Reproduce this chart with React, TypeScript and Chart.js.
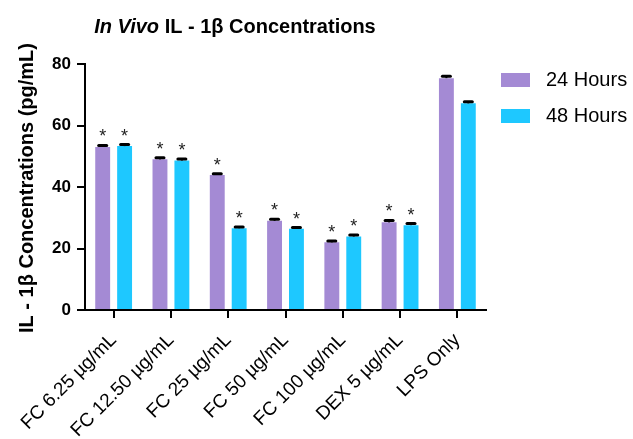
import { useEffect, useRef } from "react";
import { Chart, registerables } from "chart.js";

Chart.register(...registerables);

// Treatment groups along the x axis
const categories = [
  "FC 6.25 µg/mL",
  "FC 12.50 µg/mL",
  "FC 25 µg/mL",
  "FC 50 µg/mL",
  "FC 100 µg/mL",
  "DEX 5 µg/mL",
  "LPS Only",
];

const seriesNames = ["24 Hours", "48 Hours"];

// Mean IL-1β concentration (pg/mL)
const hours24 = [53.0, 49.0, 43.9, 29.0, 22.0, 28.5, 75.4];
const hours48 = [53.3, 48.6, 26.6, 26.4, 23.9, 27.6, 67.2];

// Error (SEM) for each mean
const err24 = [0.5, 0.5, 0.4, 0.5, 0.4, 0.6, 0.6];
const err48 = [0.5, 0.5, 0.4, 0.4, 0.5, 0.5, 0.5];

// Significance markers vs. LPS only
const sig24 = [true, true, true, true, true, true, false];
const sig48 = [true, true, true, true, true, true, false];

const yTicks = [0, 20, 40, 60, 80];

const PURPLE = "#A48AD4";
const BLUE = "#1EC8FF";
const FONT = "Arial, 'Liberation Sans', sans-serif";

const errorBarPlugin = {
  id: "errorBars",
  afterDatasetsDraw(chart: any) {
    const ctx = chart.ctx;
    const yScale = chart.scales.y;
    const errs = [err24, err48];
    const sigs = [sig24, sig48];
    chart.data.datasets.forEach((ds: any, i: number) => {
      const meta = chart.getDatasetMeta(i);
      meta.data.forEach((bar: any, j: number) => {
        const v = ds.data[j];
        const e = errs[i][j];
        const x = bar.x;
        const yTop = yScale.getPixelForValue(v + e);
        const yVal = yScale.getPixelForValue(v);
        ctx.save();
        ctx.strokeStyle = "#000";
        ctx.lineWidth = 2;
        ctx.beginPath();
        ctx.moveTo(x, yVal);
        ctx.lineTo(x, yTop);
        ctx.stroke();
        ctx.lineWidth = 3;
        ctx.lineCap = "round";
        ctx.beginPath();
        ctx.moveTo(x - 4, yTop);
        ctx.lineTo(x + 4, yTop);
        ctx.stroke();
        if (sigs[i][j]) {
          ctx.fillStyle = "#222";
          ctx.font = `18px ${FONT}`;
          ctx.textAlign = "center";
          ctx.textBaseline = "middle";
          ctx.fillText("*", x, yTop - 8);
        }
        ctx.restore();
      });
    });
  },
};

const labelsPlugin = {
  id: "chartLabels",
  afterDraw(chart: any) {
    const ctx = chart.ctx;
    ctx.save();
    ctx.fillStyle = "#000";

    // Title: italic "In Vivo" followed by the bold remainder
    ctx.textBaseline = "alphabetic";
    ctx.textAlign = "left";
    const part1 = "In Vivo";
    const part2 = " IL - 1β Concentrations";
    ctx.font = `italic bold 20px ${FONT}`;
    const w1 = ctx.measureText(part1).width;
    ctx.font = `bold 20px ${FONT}`;
    const w2 = ctx.measureText(part2).width;
    const startX = 235 - (w1 + w2) / 2;
    ctx.font = `italic bold 20px ${FONT}`;
    ctx.fillText(part1, startX, 33);
    ctx.font = `bold 20px ${FONT}`;
    ctx.fillText(part2, startX + w1, 33);

    // Y axis title
    ctx.save();
    ctx.translate(27, 188);
    ctx.rotate(-Math.PI / 2);
    ctx.textAlign = "center";
    ctx.textBaseline = "middle";
    ctx.font = `bold 20px ${FONT}`;
    ctx.fillText("IL - 1β Concentrations (pg/mL)", 0, 0);
    ctx.restore();

    // Legend
    const colors = [PURPLE, BLUE];
    ctx.font = `20px ${FONT}`;
    ctx.textAlign = "left";
    ctx.textBaseline = "middle";
    seriesNames.forEach((name, i) => {
      const y = 73 + i * 36;
      ctx.fillStyle = colors[i];
      ctx.fillRect(501, y, 29, 14);
      ctx.fillStyle = "#000";
      ctx.fillText(name, 546, y + 7.5);
    });
    ctx.restore();
  },
};

export default function App() {
  const canvasRef = useRef<HTMLCanvasElement | null>(null);

  useEffect(() => {
    const canvas = canvasRef.current;
    if (!canvas) return;
    const chart = new Chart(canvas, {
      type: "bar",
      data: {
        labels: categories,
        datasets: [
          {
            label: seriesNames[0],
            data: hours24,
            backgroundColor: PURPLE,
            categoryPercentage: 0.765,
            barPercentage: 0.68,
          },
          {
            label: seriesNames[1],
            data: hours48,
            backgroundColor: BLUE,
            categoryPercentage: 0.765,
            barPercentage: 0.68,
          },
        ],
      },
      options: {
        responsive: false,
        animation: false,
        layout: { padding: { top: 64, right: 147, left: 0, bottom: 0 } },
        plugins: {
          legend: { display: false },
          title: { display: false },
          tooltip: { enabled: false },
        },
        scales: {
          x: {
            grid: {
              display: true,
              drawOnChartArea: false,
              offset: false,
              color: "#000",
              lineWidth: 2,
              tickLength: 8,
              tickWidth: 2,
            },
            border: { display: true, color: "#000", width: 2 },
            ticks: {
              color: "#000",
              font: { family: FONT, size: 19 },
              minRotation: 45,
              maxRotation: 45,
              autoSkip: false,
              padding: 11,
            },
            afterFit: (s: any) => {
              s.height = 129;
            },
          },
          y: {
            min: 0,
            max: 80,
            afterBuildTicks: (s: any) => {
              s.ticks = yTicks.map((v) => ({ value: v }));
            },
            ticks: {
              color: "#000",
              font: { family: FONT, size: 17, weight: "bold" },
              padding: 6,
            },
            grid: {
              drawOnChartArea: false,
              color: "#000",
              lineWidth: 2,
              tickLength: 8,
              tickWidth: 2,
            },
            border: { display: true, color: "#000", width: 2 },
            afterFit: (s: any) => {
              s.width = 85;
            },
          },
        },
      },
      plugins: [errorBarPlugin, labelsPlugin],
    } as any);
    return () => chart.destroy();
  }, []);

  return (
    <canvas
      ref={canvasRef}
      width={633}
      height={439}
      style={{ position: "fixed", left: 0, top: 0, width: 633, height: 439, background: "#fff" }}
    />
  );
}
